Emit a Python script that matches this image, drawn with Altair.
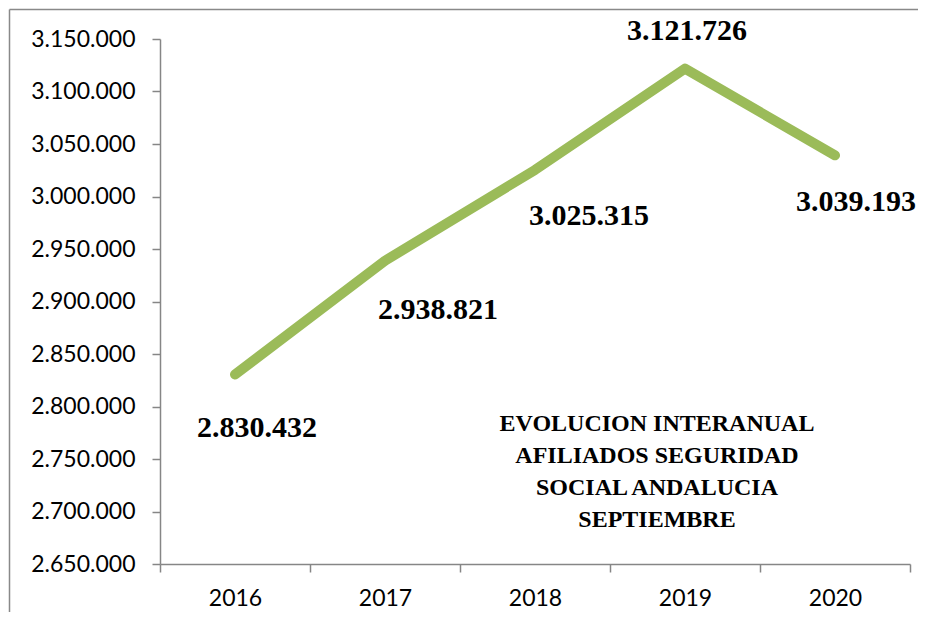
import altair as alt
import pandas as pd

years = ["2016", "2017", "2018", "2019", "2020"]
afiliados = [2830432, 2938821, 3025315, 3121726, 3039193]
y_ticks = [2650000, 2700000, 2750000, 2800000, 2850000, 2900000, 2950000,
           3000000, 3050000, 3100000, 3150000]
title_lines = ["EVOLUCION INTERANUAL", "AFILIADOS SEGURIDAD", "SOCIAL ANDALUCIA", "SEPTIEMBRE"]

# label placement offsets (pixels) as positioned in the original chart
label_dx = [22, 53, 54, 2, 21]
label_dy = [53, 49, 46, -38, 47]

df = pd.DataFrame({
    "year": years,
    "value": afiliados,
    "label": [f"{v:,}".replace(",", ".") for v in afiliados],
})

AXIS_GREY = "#868686"

x_enc = alt.X(
    "year:N",
    bandPosition=0.5,
    scale=alt.Scale(type="band", paddingInner=0, paddingOuter=0),
    axis=alt.Axis(
        title=None, tickBand="extent", labelAngle=0,
        labelFont="Lato", labelFontSize=23, labelColor="#000000",
        labelPadding=15, tickSize=8, tickColor=AXIS_GREY, tickWidth=1.5,
        domainColor=AXIS_GREY, domainWidth=1.5, grid=False,
    ),
)
y_enc = alt.Y(
    "value:Q",
    scale=alt.Scale(domain=[2650000, 3150000], nice=False, zero=False),
    axis=alt.Axis(
        title=None, values=y_ticks,
        labelExpr="replace(replace(format(datum.value, ',d'), ',', '.'), ',', '.')",
        labelFont="Lato", labelFontSize=23, labelColor="#000000",
        labelPadding=17, tickSize=8, tickColor=AXIS_GREY, tickWidth=1.5,
        domainColor=AXIS_GREY, domainWidth=1.5, grid=False,
    ),
)

one = pd.DataFrame({"a": [0]})
border_left = alt.Chart(one).mark_rule(color="#898989", strokeWidth=1.5).encode(
    x=alt.value(-150.5), y=alt.value(-29.5), y2=alt.value(700),
)
border_top = alt.Chart(one).mark_rule(color="#898989", strokeWidth=1.5).encode(
    x=alt.value(-150.5), x2=alt.value(765), y=alt.value(-29.5),
)

line = alt.Chart(df).mark_line(
    color="#9BBB59", strokeWidth=10, strokeCap="round", strokeJoin="round"
).encode(x=x_enc, y=y_enc)

label_layers = []
for yr, dx, dy in zip(years, label_dx, label_dy):
    label_layers.append(
        alt.Chart(df).transform_filter(alt.datum.year == yr).mark_text(
            font="Liberation Serif", fontWeight="bold", fontSize=30,
            color="#000000", align="center", baseline="middle", dx=dx, dy=dy,
        ).encode(
            x=alt.X("year:N", bandPosition=0.5),
            y=alt.Y("value:Q"),
            text="label:N",
        )
    )

title = alt.Chart(pd.DataFrame({"t": ["\n".join(title_lines)]})).mark_text(
    font="Liberation Serif", fontWeight="bold", fontSize=24, color="#000000",
    align="center", baseline="top", lineBreak="\n", lineHeight=32,
).encode(text="t:N", x=alt.value(497), y=alt.value(373))

chart = alt.layer(border_left, border_top, line, *label_layers, title).properties(
    width=750, height=525,
    autosize=alt.AutoSizeParams(type="none"),
    padding={"left": 152, "top": 31, "right": 8, "bottom": 48},
).configure_view(strokeOpacity=0)

chart.save("out.html", embed_options={"renderer": "svg", "actions": False})
